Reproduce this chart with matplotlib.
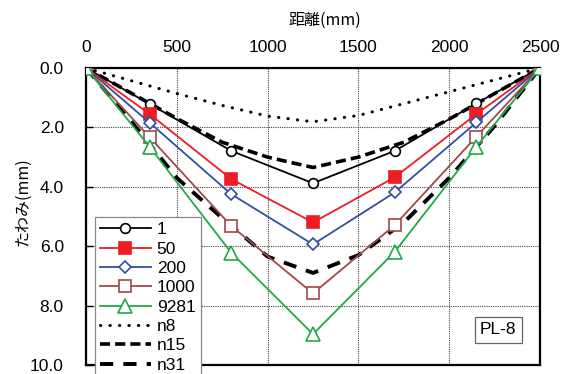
import numpy as np
import matplotlib
matplotlib.use("Agg")
import matplotlib.pyplot as plt

plt.rcParams['font.family'] = ['Liberation Sans', 'Noto Sans CJK JP']

# measured deflection (mm) at gauge positions (mm) for each cycle count
x_pts = [0, 350, 800, 1250, 1700, 2150, 2500]
d_1 = [0.0, 1.21, 2.79, 3.88, 2.79, 1.19, 0.0]
d_50 = [0.0, 1.55, 3.74, 5.20, 3.68, 1.55, 0.0]
d_200 = [0.0, 1.84, 4.25, 5.94, 4.19, 1.83, 0.0]
d_1000 = [0.0, 2.33, 5.32, 7.59, 5.29, 2.31, 0.0]
d_9281 = [0.0, 2.65, 6.22, 8.96, 6.19, 2.65, 0.0]

# analysis curves
x_fe = [0, 250, 500, 750, 1000, 1250, 1500, 1750, 2000, 2250, 2500]
n8 = [0.0, 0.43, 0.86, 1.26, 1.62, 1.81, 1.60, 1.20, 0.80, 0.40, 0.0]
n15 = [0.0, 0.85, 1.70, 2.50, 3.00, 3.35, 3.00, 2.50, 1.72, 0.86, 0.0]
n31 = [0.0, 1.80, 3.70, 5.05, 6.35, 6.90, 6.30, 5.20, 3.70, 1.95, 0.0]

xticks = [0, 500, 1000, 1500, 2000, 2500]
yticks = [0.0, 2.0, 4.0, 6.0, 8.0, 10.0]

fig = plt.figure(figsize=(5.68, 3.74), dpi=100)
ax = fig.add_axes([86/568, 1-365/374, 454/568, 297/374])

mew = 1.2
ax.plot(x_pts, d_1, '-o', color='black', lw=1.3, ms=7, mfc='white', mec='black', mew=mew, label='1', zorder=5)
ax.plot(x_pts, d_50, '-s', color='#ee1c25', lw=1.3, ms=8, mfc='#ee1c25', mec='#ee1c25', mew=mew, label='50', zorder=5)
ax.plot(x_pts, d_200, '-D', color='#2f4fa2', lw=1.3, ms=6.2, mfc='white', mec='#2f4fa2', mew=mew, label='200', zorder=5)
ax.plot(x_pts, d_1000, '-s', color='#a0484a', lw=1.3, ms=8.5, mfc='white', mec='#a0484a', mew=mew, label='1000', zorder=5)
ax.plot(x_pts, d_9281, '-^', color='#22a84a', lw=1.3, ms=10, mfc='white', mec='#22a84a', mew=mew, label='9281', zorder=5)

ax.plot(x_fe, n8, color='black', lw=2.2, linestyle=(0, (0.1, 3.0)), dash_capstyle='round', label='n8', zorder=4)
ax.plot(x_fe, n15, color='black', lw=2.6, linestyle=(0, (2.8, 1.4)), label='n15', zorder=4)
ax.plot(x_fe, n31, color='black', lw=2.8, linestyle=(0, (3.4, 2.6)), label='n31', zorder=4)

ax.set_xlim(0, 2500)
ax.set_ylim(10.0, 0.0)
ax.set_xticks(xticks)
ax.set_yticks(yticks)
ax.yaxis.set_major_formatter(plt.FormatStrFormatter('%.1f'))
ax.xaxis.tick_top()
ax.tick_params(axis='x', direction='in', length=0, pad=9, labelsize=12.5)
ax.tick_params(axis='y', direction='in', length=5, width=1, pad=16, labelsize=12.5)

ax.grid(True, color='#444444', lw=0.8, linestyle=(0, (1, 1)))
for s in ax.spines.values():
    s.set_linewidth(1.6)
    s.set_color('black')

fig.text(325/568, 1-20/374, '距離(mm)', ha='center', va='center', fontsize=11.5, family='Noto Sans CJK JP')
fig.text(23/568, 1-202/374, 'たわみ(mm)', ha='center', va='center', rotation=90, fontsize=11.5, family='Noto Sans CJK JP')

ax.text(0.908, 0.118, 'PL-8', transform=ax.transAxes, ha='center', va='center', fontsize=12.5,
        bbox=dict(boxstyle='square,pad=0.3', fc='white', ec='#666666', lw=0.9))

leg = ax.legend(loc='upper left', bbox_to_anchor=(0.02, 0.498), borderaxespad=0, fontsize=12.5,
                handlelength=2.9, handletextpad=0.35, labelspacing=0.24, borderpad=0.3,
                numpoints=1, fancybox=False, framealpha=1, edgecolor='#888888')
leg.get_frame().set_linewidth(0.9)
leg.set_zorder(10)

plt.savefig('out.png', dpi=100)
